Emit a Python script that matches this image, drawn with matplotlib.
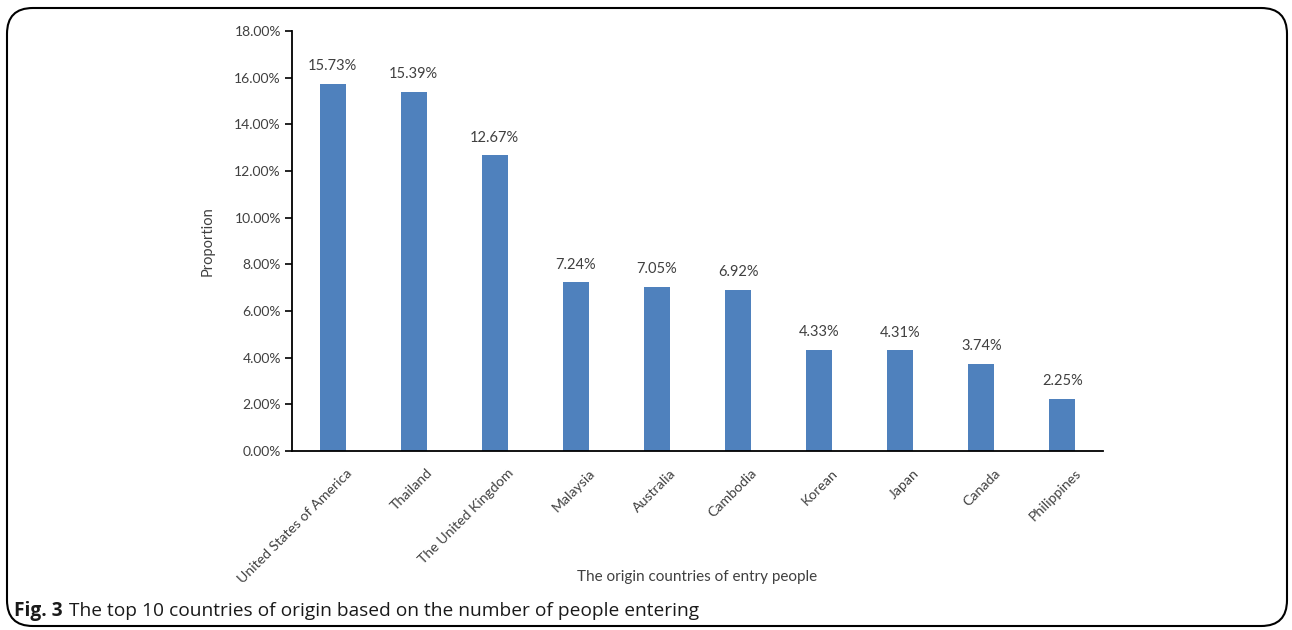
import matplotlib
matplotlib.use("Agg")
import matplotlib.pyplot as plt
from matplotlib.patches import FancyBboxPatch
from matplotlib.ticker import FuncFormatter
from matplotlib.transforms import ScaledTranslation

countries = ["United States of America", "Thailand", "The United Kingdom", "Malaysia",
             "Australia", "Cambodia", "Korean", "Japan", "Canada", "Philippines"]
proportions = [15.73, 15.39, 12.67, 7.24, 7.05, 6.92, 4.33, 4.31, 3.74, 2.25]
y_ticks = [0, 2, 4, 6, 8, 10, 12, 14, 16, 18]

W, H = 1292, 630
fig = plt.figure(figsize=(W / 100, H / 100), dpi=100)
fig.patch.set_facecolor("white")

font = "Lato"
txt_color = "#404040"

# axes placement in pixels
x0, x1 = 292, 1103
y_top, y_bot = 31, 451
ax = fig.add_axes([x0 / W, 1 - y_bot / H, (x1 - x0) / W, (y_bot - y_top) / H])

xs = list(range(len(countries)))
ax.bar(xs, proportions, width=0.32, color="#4F81BD", zorder=2)
for x, v in zip(xs, proportions):
    ax.text(x, v + 0.45, f"{v:.2f}%", ha="center", va="bottom",
            fontsize=10.5, color=txt_color, family=font)

ax.set_xlim(-0.5, len(countries) - 0.5)
ax.set_ylim(0, 18)
ax.set_yticks(y_ticks)
ax.yaxis.set_major_formatter(FuncFormatter(lambda v, p: f"{v:.2f}%"))
ax.set_xticks(xs)
ax.set_xticklabels([])
for lab in ax.get_yticklabels():
    lab.set_family(font)
    lab.set_fontsize(10)
    lab.set_color(txt_color)

# slanted category labels, ending just right of each bar's centre
label_tr = ax.get_xaxis_transform() + ScaledTranslation(17 / 100, -20 / 100, fig.dpi_scale_trans)
for x, name in zip(xs, countries):
    ax.text(x, 0, name, transform=label_tr, rotation=45, rotation_mode="anchor",
            ha="right", va="center", fontsize=10.2, color=txt_color, family=font)

ax.tick_params(axis="x", length=0)
ax.tick_params(axis="y", length=5, width=1.2, direction="out", pad=3)
for s in ["top", "right"]:
    ax.spines[s].set_visible(False)
ax.spines["left"].set_linewidth(1.3)
ax.spines["bottom"].set_linewidth(1.3)

ax.set_ylabel("Proportion", fontsize=10.5, color=txt_color, family=font, labelpad=14)
fig.text(697 / W, 1 - 577 / H, "The origin countries of entry people",
         ha="center", va="center", fontsize=11, color=txt_color, family=font)

# caption: bold figure number followed by the description
fig.canvas.draw()
renderer = fig.canvas.get_renderer()
cap_y = 1 - 611 / H
lead = fig.text(14 / W, cap_y, "Fig. 3", ha="left", va="center", fontsize=13.8,
                family="Open Sans", weight="bold", color="#1a1a1a")
bb = lead.get_window_extent(renderer=renderer)
fig.text((bb.x1 + 6) / W, cap_y,
         "The top 10 countries of origin based on the number of people entering",
         ha="left", va="center", fontsize=13.8, family="Open Sans", color="#1a1a1a")

frame = FancyBboxPatch((7 / W, 4 / H), (1287 - 7) / W, (622 - 4) / H,
                       boxstyle="round,pad=0,rounding_size=0.02",
                       transform=fig.transFigure, fill=False, edgecolor="black",
                       linewidth=1.5, mutation_aspect=W / H)
fig.patches.append(frame)

fig.savefig("out.png", dpi=100)
